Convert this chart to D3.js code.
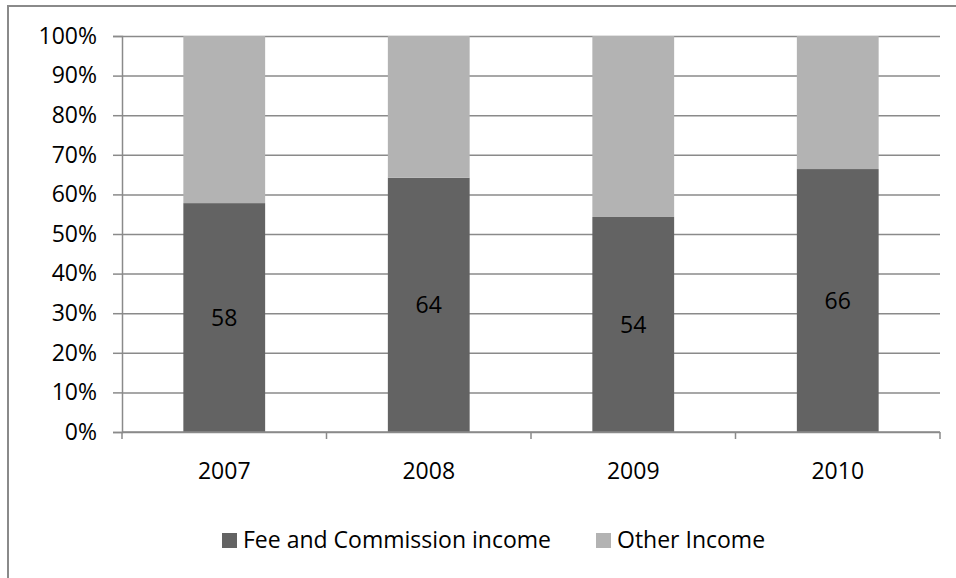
<!DOCTYPE html>
<html>
<head>
<meta charset="utf-8">
<script src="https://cdn.jsdelivr.net/npm/d3@7"></script>
<style>
  body { margin: 0; background: #fff; }
  text { font-family: "Open Sans", "Liberation Sans", sans-serif; fill: #000; }
</style>
</head>
<body>
<div id="chart"></div>
<script>
const years = ["2007", "2008", "2009", "2010"];
const feeIncome = [57.8, 64.2, 54.3, 66.4];
const otherIncome = [42.2, 35.8, 45.7, 33.6];
const seriesNames = ["Fee and Commission income", "Other Income"];
const yTicks = [0, 10, 20, 30, 40, 50, 60, 70, 80, 90, 100];

const colors = ["#636363", "#b3b3b3"];
const gridColor = "#8a8a8a";
const fontSize = "23px";

const margin = {top: 36, right: 16, bottom: 146, left: 122},
    width = 956 - margin.left - margin.right,
    height = 578 - margin.top - margin.bottom;

const svg = d3.select("#chart").append("svg")
    .attr("width", 956)
    .attr("height", 578);

// outer chart frame (only top and left visible)
svg.append("rect")
    .attr("x", 8).attr("y", 6)
    .attr("width", 1100).attr("height", 800)
    .attr("fill", "none")
    .attr("stroke", gridColor)
    .attr("stroke-width", 2);

const g = svg.append("g")
    .attr("transform", "translate(" + margin.left + "," + margin.top + ")");

const x = d3.scaleBand()
    .domain(years)
    .range([0, width])
    .paddingInner(0.6)
    .paddingOuter(0.3);

const y = d3.scaleLinear()
    .domain([0, 100])
    .range([height, 0]);

// gridlines + y axis
const yAxis = g.append("g")
    .call(d3.axisLeft(y).tickValues(yTicks).tickSize(9).tickFormat(d => d + "%"));
yAxis.select(".domain").attr("stroke", gridColor).attr("stroke-width", 1.5);
yAxis.selectAll(".tick line").attr("stroke", gridColor).attr("stroke-width", 1.5)
    .attr("x2", width);
yAxis.selectAll(".tick line").clone()
    .attr("x1", 0).attr("x2", -9);
yAxis.selectAll("text")
    .attr("x", -25)
    .style("font-size", fontSize)
    .style("font-family", "'Open Sans', sans-serif");

// stacked data
const table = years.map((yr, i) => ({year: yr, fee: feeIncome[i], other: otherIncome[i]}));
const stack = d3.stack().keys(["fee", "other"])(table);

g.selectAll(".layer")
    .data(stack)
    .enter().append("g")
    .attr("fill", (d, i) => colors[i])
    .selectAll("rect")
    .data(d => d)
    .enter().append("rect")
    .attr("x", d => x(d.data.year))
    .attr("width", x.bandwidth())
    .attr("y", d => y(d[1]))
    .attr("height", d => y(d[0]) - y(d[1]));

// data labels
g.selectAll(".lbl")
    .data(table)
    .enter().append("text")
    .attr("x", d => x(d.year) + x.bandwidth() / 2)
    .attr("y", d => (y(0) + y(d.fee)) / 2)
    .attr("dy", "0.35em")
    .attr("text-anchor", "middle")
    .style("font-size", fontSize)
    .text(d => d3.format(".0f")(d.fee));

// x axis
const xAxis = g.append("g")
    .attr("transform", "translate(0," + height + ")");
xAxis.append("line")
    .attr("x1", 0).attr("x2", width)
    .attr("stroke", gridColor).attr("stroke-width", 1.5);
xAxis.selectAll(".xt")
    .data(d3.range(years.length + 1))
    .enter().append("line")
    .attr("x1", i => i * width / years.length)
    .attr("x2", i => i * width / years.length)
    .attr("y1", 0).attr("y2", 7)
    .attr("stroke", gridColor).attr("stroke-width", 1.5);
xAxis.selectAll(".xl")
    .data(years)
    .enter().append("text")
    .attr("x", d => x(d) + x.bandwidth() / 2)
    .attr("y", 39)
    .attr("dy", "0.35em")
    .attr("text-anchor", "middle")
    .style("font-size", fontSize)
    .text(d => d);

// legend
const legendX = [222, 596];
const legend = svg.append("g");
seriesNames.forEach((name, i) => {
    legend.append("rect")
        .attr("x", legendX[i]).attr("y", 533)
        .attr("width", 15).attr("height", 15)
        .attr("fill", colors[i]);
    legend.append("text")
        .attr("x", legendX[i] + 21).attr("y", 540)
        .attr("dy", "0.35em")
        .style("font-size", fontSize)
        .text(name);
});
</script>
</body>
</html>
